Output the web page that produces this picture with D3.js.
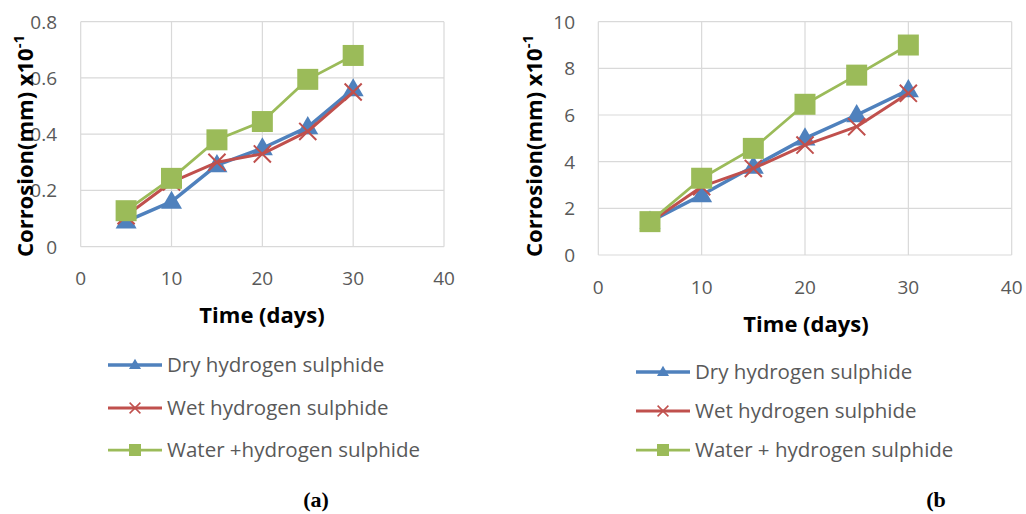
<!DOCTYPE html>
<html>
<head>
<meta charset="utf-8">
<script src="https://cdn.jsdelivr.net/npm/d3@7"></script>
<style>
body { margin: 0; background: #fff; }
text { font-family: "Open Sans", "Liberation Sans", Arial, sans-serif; }
text.tag { font-family: "Liberation Serif", "DejaVu Serif", serif; }
</style>
</head>
<body>
<div id="chart"></div>
<script>
// data
var days = [5, 10, 15, 20, 25, 30];
var xTicks = [0, 10, 20, 30, 40];

var namesA = ["Dry hydrogen sulphide", "Wet hydrogen sulphide", "Water +hydrogen sulphide"];
var namesB = ["Dry hydrogen sulphide", "Wet hydrogen sulphide", "Water + hydrogen sulphide"];

var dryA   = [0.09, 0.16, 0.29, 0.35, 0.425, 0.56];
var wetA   = [0.11, 0.23, 0.30, 0.33, 0.41, 0.55];
var waterA = [0.128, 0.243, 0.38, 0.445, 0.595, 0.68];
var yTicksA = [0, 0.2, 0.4, 0.6, 0.8];

var dryB   = [1.43, 2.57, 3.79, 5.0, 6.0, 7.07];
var wetB   = [1.4, 2.93, 3.71, 4.71, 5.5, 6.93];
var waterB = [1.43, 3.29, 4.57, 6.46, 7.71, 9.0];
var yTicksB = [0, 2, 4, 6, 8, 10];

var colors = ["#4f81bd", "#c0504d", "#9bbb59"];
var markers = ["triangle", "cross", "square"];
var widths = [3.5, 3, 2.75];

var svg = d3.select("#chart").append("svg")
	.attr("width", 1026)
	.attr("height", 514);

var panels = [
	{ series: [dryA, wetA, waterA], names: namesA, yTicks: yTicksA, yMax: 0.8,
	  x0: 80.7, x1: 444, y0: 21.7, y1: 246.7, tickRight: 57, xTickY: 285,
	  yTitleX: 33, xTitleX: 262, xTitleY: 323,
	  legX: 108, legY: [365, 408, 450], tag: "(a)", tagX: 316 },
	{ series: [dryB, wetB, waterB], names: namesB, yTicks: yTicksB, yMax: 10,
	  x0: 598.3, x1: 1011.7, y0: 21.7, y1: 255, tickRight: 575, xTickY: 294,
	  yTitleX: 542, xTitleX: 806, xTitleY: 332,
	  legX: 636, legY: [372, 411, 450], tag: "(b", tagX: 936 }
];

function drawMarker(g, type, color, cx, cy, s) {
	if (type == "cross") {
		var h = s * 0.45;
		g.append("path")
			.attr("d", "M" + (cx - h) + "," + (cy - h) + "L" + (cx + h) + "," + (cy + h) +
				"M" + (cx - h) + "," + (cy + h) + "L" + (cx + h) + "," + (cy - h))
			.attr("stroke", color)
			.attr("stroke-width", s > 12 ? 2 : 1.5)
			.attr("fill", "none");
	} else {
		var sym = type == "triangle" ? d3.symbolTriangle : d3.symbolSquare;
		var area = type == "triangle" ? Math.sqrt(3) / 4 * s * s : s * s;
		g.append("path")
			.attr("transform", "translate(" + cx + "," + (type == "triangle" ? cy + s * 0.05 : cy) + ")")
			.attr("d", d3.symbol().type(sym).size(area)())
			.attr("fill", color);
	}
}

panels.forEach(function(p) {
	var x = d3.scaleLinear().domain([0, 40]).range([p.x0, p.x1]);
	var y = d3.scaleLinear().domain([0, p.yMax]).range([p.y1, p.y0]);
	var g = svg.append("g");

	// gridlines
	g.selectAll(".hg").data(p.yTicks).enter().append("line")
		.attr("x1", p.x0).attr("x2", p.x1)
		.attr("y1", function(d) { return y(d); }).attr("y2", function(d) { return y(d); })
		.attr("stroke", "#d9d9d9").attr("stroke-width", 1.2);
	g.selectAll(".vg").data(xTicks).enter().append("line")
		.attr("y1", p.y0).attr("y2", p.y1)
		.attr("x1", function(d) { return x(d); }).attr("x2", function(d) { return x(d); })
		.attr("stroke", "#d9d9d9").attr("stroke-width", 1.2);

	// tick labels
	g.selectAll(".yt").data(p.yTicks).enter().append("text")
		.attr("x", p.tickRight)
		.attr("y", function(d) { return y(d) + 7; })
		.attr("text-anchor", "end")
		.attr("font-size", 19)
		.attr("fill", "#595959")
		.text(function(d) { return d; });
	g.selectAll(".xt").data(xTicks).enter().append("text")
		.attr("x", function(d) { return x(d); })
		.attr("y", p.xTickY)
		.attr("text-anchor", "middle")
		.attr("font-size", 19)
		.attr("fill", "#595959")
		.text(function(d) { return d; });

	// axis titles
	var yt = g.append("text")
		.attr("transform", "translate(" + p.yTitleX + ",257) rotate(-90)")
		.attr("text-anchor", "start")
		.attr("font-size", 22)
		.attr("font-weight", "bold")
		.attr("fill", "#000");
	yt.append("tspan").text("Corrosion(mm) x10");
	yt.append("tspan").attr("dy", -9).attr("font-size", 15).text("-1");
	g.append("text")
		.attr("x", p.xTitleX).attr("y", p.xTitleY)
		.attr("text-anchor", "middle")
		.attr("font-size", 22)
		.attr("font-weight", "bold")
		.text("Time (days)");

	// lines then markers
	var line = d3.line()
		.x(function(d, i) { return x(days[i]); })
		.y(function(d) { return y(d); });
	p.series.forEach(function(s, k) {
		g.append("path")
			.datum(s)
			.attr("d", line)
			.attr("fill", "none")
			.attr("stroke", colors[k])
			.attr("stroke-width", widths[k])
			.attr("stroke-linejoin", "round");
		s.forEach(function(v, i) {
			drawMarker(g, markers[k], colors[k], x(days[i]), y(v), k == 1 ? 19 : 21);
		});
	});

	// legend
	p.names.forEach(function(n, k) {
		var ly = p.legY[k];
		g.append("line")
			.attr("x1", p.legX).attr("x2", p.legX + 54)
			.attr("y1", ly).attr("y2", ly)
			.attr("stroke", colors[k]).attr("stroke-width", widths[k]);
		drawMarker(g, markers[k], colors[k], p.legX + 27, ly, 12);
		g.append("text")
			.attr("x", p.legX + 59).attr("y", ly + 7)
			.attr("font-size", 20.5)
			.attr("fill", "#595959")
			.text(n);
	});

	g.append("text")
		.attr("class", "tag")
		.attr("x", p.tagX).attr("y", 507)
		.attr("text-anchor", "middle")
		.attr("font-weight", "bold")
		.attr("font-size", 22)
		.text(p.tag);
});
</script>
</body>
</html>
